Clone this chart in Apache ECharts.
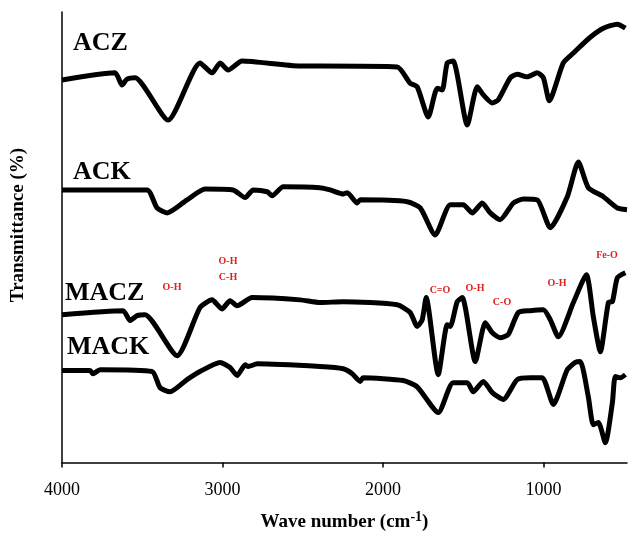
<!DOCTYPE html>
<html>
<head>
<meta charset="utf-8">
<script src="https://cdn.jsdelivr.net/npm/echarts@6/dist/echarts.min.js"></script>
<style>
  html, body { margin: 0; padding: 0; background: #fff; }
  #chart { width: 628px; height: 537px; }
</style>
</head>
<body>
<div id="chart"></div>
<script>
// wave number (cm-1), transmittance (arbitrary, stacked offsets)
const acz = [[4000,84.9],[3670,86.5],[3626,83.8],[3595,85.1],[3545,85.4],[3339,76.0],[3140,88.7],[3065,86.5],[3015,88.7],[2965,87.1],[2878,89.1],[2516,88.0],[2392,88.0],[1912,87.8],[1831,84.2],[1787,83.4],[1718,76.7],[1662,83.1],[1631,82.7],[1600,88.7],[1563,89.1],[1475,74.9],[1413,83.4],[1375,81.6],[1319,79.8],[1282,80.5],[1207,85.4],[1164,86.2],[1101,85.6],[1039,86.5],[1001,85.4],[964,80.3],[877,88.7],[814,90.9],[709,94.4],[627,96.4],[540,97.3],[490,96.4]]
const ack = [[4000,60.5],[3470,60.5],[3408,56.5],[3345,55.4],[3221,58.3],[3109,60.7],[2934,60.5],[2859,58.8],[2809,60.5],[2722,60.1],[2691,59.2],[2622,61.2],[2392,61.0],[2329,60.5],[2248,59.6],[2223,59.9],[2161,57.6],[2142,58.3],[1849,57.9],[1768,56.5],[1675,50.5],[1581,57.2],[1500,57.2],[1444,55.4],[1382,57.6],[1332,55.4],[1270,53.9],[1188,57.6],[1126,58.5],[1039,58.3],[958,52.1],[852,59.0],[783,66.7],[721,61.0],[627,59.0],[540,56.5],[480,56.1]]
const macz = [[4000,32.8],[3620,33.7],[3576,31.5],[3532,32.6],[3483,32.8],[3283,23.7],[3140,34.4],[3065,36.1],[3003,34.1],[2953,35.9],[2909,34.8],[2816,36.6],[2516,36.1],[2392,35.5],[2248,35.7],[1912,35.0],[1831,33.3],[1787,30.2],[1756,31.7],[1731,36.6],[1656,19.5],[1600,30.6],[1581,30.2],[1538,35.7],[1506,36.6],[1425,22.4],[1363,31.0],[1319,28.8],[1270,27.7],[1220,28.4],[1157,33.3],[1082,33.7],[1001,33.9],[958,31.7],[908,27.9],[814,35.5],[733,41.7],[690,32.4],[646,24.6],[596,35.5],[571,35.7],[540,41.0],[490,42.1]]
const mack = [[4000,20.4],[3825,20.4],[3807,19.7],[3763,20.6],[3439,20.2],[3389,16.6],[3327,15.7],[3221,18.4],[3140,20.2],[3015,22.2],[2953,21.1],[2909,19.3],[2859,21.7],[2840,21.3],[2784,21.9],[2392,21.3],[2248,20.8],[2192,19.7],[2142,18.0],[2124,18.8],[1874,18.2],[1787,16.8],[1656,11.1],[1563,17.7],[1475,17.7],[1438,15.7],[1375,18.0],[1319,15.5],[1251,14.0],[1164,18.4],[1082,18.8],[1008,18.8],[939,12.9],[852,20.6],[802,22.2],[771,22.4],[721,14.6],[690,8.4],[659,8.9],[615,4.4],[571,13.3],[553,19.1],[521,18.8],[490,19.5]]

const xTicks = [1000, 2000, 3000, 4000]
const sampleNames = ['ACZ', 'ACK', 'MACZ', 'MACK']
const bandNames = ['O-H', 'O-H', 'C-H', 'C=O', 'O-H', 'C-O', 'O-H', 'Fe-O']

const serif = '"Liberation Serif", "DejaVu Serif", serif'

const chart = echarts.init(document.getElementById('chart'))

function line(data) {
    return {
        type: 'line',
        data: data,
        showSymbol: false,
        smooth: 0.2,
        lineStyle: { color: '#000', width: 5 },
        silent: true,
    }
}

// label spots (pixel)
const samplePos = [[73, 43], [73, 172], [65, 293], [67, 347]]
const bandPos = [[172, 287], [228, 261], [228, 277], [440, 290], [475, 288], [502, 302], [557, 283], [607, 255]]

const graphics = []
sampleNames.forEach((n, i) => {
    graphics.push({
        type: 'text', x: samplePos[i][0], y: samplePos[i][1],
        style: { text: n, font: 'bold 26px ' + serif, fill: '#000', textVerticalAlign: 'middle' }
    })
})
bandNames.forEach((n, i) => {
    graphics.push({
        type: 'text', x: bandPos[i][0], y: bandPos[i][1],
        style: { text: n, font: 'bold 10px ' + serif, fill: '#e02020', textAlign: 'center', textVerticalAlign: 'middle' }
    })
})
graphics.push({
    type: 'text', x: 18, y: 225, rotation: Math.PI / 2,
    style: { text: 'Transmittance (%)', font: 'bold 19px ' + serif, fill: '#000', textAlign: 'center', textVerticalAlign: 'middle' }
})

chart.setOption({
    animation: false,
    grid: { left: 62, right: 1, top: 12, bottom: 74 },
    xAxis: {
        type: 'value',
        inverse: true,
        min: 480,
        max: 4000,
        splitLine: { show: false },
        axisLine: { lineStyle: { color: '#000', width: 1.5 } },
        axisTick: { inside: false, length: 5, customValues: xTicks, lineStyle: { color: '#000', width: 1.5 } },
        axisLabel: { customValues: xTicks, formatter: v => String(v), margin: 19, color: '#000', fontFamily: serif, fontSize: 18 },
        name: 'Wave number (cm{sup|-1})',
        nameLocation: 'middle',
        nameGap: 48,
        nameTextStyle: {
            color: '#000', fontFamily: serif, fontSize: 19, fontWeight: 'bold',
            rich: { sup: { fontFamily: serif, fontSize: 14, fontWeight: 'bold', color: '#000', verticalAlign: 'top', padding: [0, 0, 10, 0] } }
        }
    },
    yAxis: {
        type: 'value',
        min: 0,
        max: 100,
        splitLine: { show: false },
        axisLine: { show: true, lineStyle: { color: '#000', width: 1.5 } },
        axisTick: { show: false },
        axisLabel: { show: false }
    },
    series: [line(acz), line(ack), line(macz), line(mack)],
    graphic: graphics
})
</script>
</body>
</html>
